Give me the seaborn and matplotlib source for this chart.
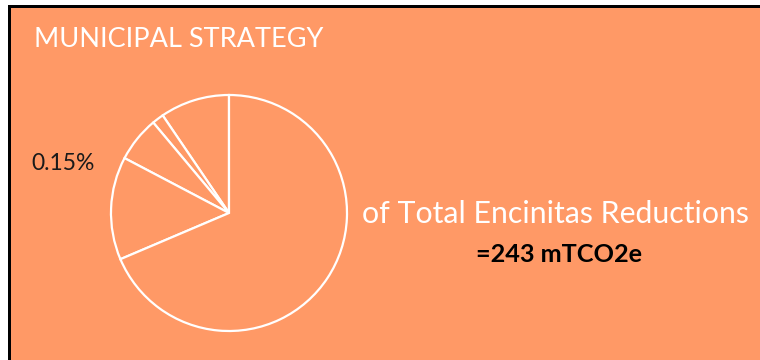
import matplotlib
matplotlib.use("Agg")
import matplotlib.pyplot as plt
import seaborn as sns
from matplotlib.patches import Rectangle

# ---- data ----
slice_names = ["Strategy A", "Strategy B", "Strategy C", "Strategy D", "Other"]
slice_shares = [9.5, 1.6, 6.2, 14.1, 68.6]
title_text = "MUNICIPAL STRATEGY"
share_label = "0.15%"
caption_text = "of Total Encinitas Reductions"
total_text = "=243 mTCO2e"

ORANGE = "#FF9966"

sns.set_style("white")
plt.rcParams["font.family"] = ["Lato", "DejaVu Sans"]

W, H = 760, 360
fig = plt.figure(figsize=(W / 100, H / 100), dpi=100, facecolor="white")
ax = fig.add_axes([0, 0, 1, 1])
ax.set_facecolor("white")

# frame: black border then orange panel
ax.add_patch(Rectangle((8, 0), W - 8, H - 5, facecolor="black", edgecolor="none", zorder=0))
ax.add_patch(Rectangle((11, 0), W - 11, H - 8, facecolor=ORANGE, edgecolor="none", zorder=0))

cx, cy, r = 229, H - 213, 118
wedges, _ = ax.pie(
    slice_shares,
    startangle=90,
    counterclock=True,
    center=(cx, cy),
    radius=r,
    colors=[ORANGE] * len(slice_shares),
    wedgeprops=dict(edgecolor="white", linewidth=1.6),
    frame=True,
)
for w in wedges:
    w.set_zorder(2)

ax.set_xlim(0, W)
ax.set_ylim(0, H)
ax.set_aspect("auto")
ax.set_xticks([])
ax.set_yticks([])
for s in ax.spines.values():
    s.set_visible(False)

ax.text(34, H - 47, title_text, color="white", fontsize=19.5, ha="left", va="baseline")
ax.text(31, H - 170, share_label, color="#1a1a1a", fontsize=16.5, ha="left", va="baseline")
ax.text(362, H - 223, caption_text, color="white", fontsize=21.8, ha="left", va="baseline")
ax.text(559, H - 262, total_text, color="black", fontsize=18.2, fontweight="bold",
        ha="center", va="baseline")

fig.savefig("out.png", dpi=100, facecolor="white")
